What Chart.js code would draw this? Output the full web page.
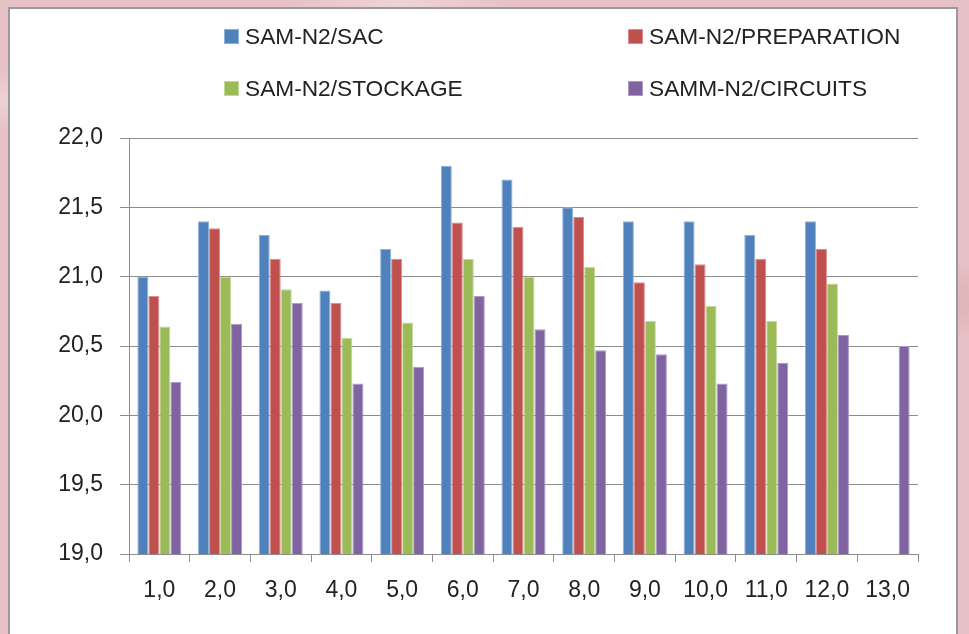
<!DOCTYPE html>
<html>
<head>
<meta charset="utf-8">
<script src="https://cdn.jsdelivr.net/npm/chart.js@4.4.1/dist/chart.umd.min.js"></script>
<style>
  html, body { margin: 0; padding: 0; }
  body {
    width: 969px; height: 634px; position: relative; overflow: hidden;
    background-color: #e6c1c5;
    background-image:
      radial-gradient(ellipse 60px 30px at 20px 100px, rgba(255,255,255,0.35), transparent),
      radial-gradient(ellipse 80px 40px at 940px 300px, rgba(200,150,155,0.35), transparent),
      radial-gradient(ellipse 120px 20px at 400px 4px, rgba(255,255,255,0.3), transparent);
  }
  #panel {
    position: absolute; left: 8px; top: 7px; width: 950px; height: 640px;
    background: #fff; border-left: 2px solid #9a9a9a; border-top: 2px solid #9a9a9a;
    border-right: 2px solid #9a9a9a; box-sizing: border-box;
  }
  #chartBox { position: absolute; left: 0; top: 0; width: 969px; height: 634px; }
  .legend-item {
    position: absolute; display: flex; align-items: center;
    font-family: "Liberation Sans", Arial, sans-serif; font-size: 22.7px; color: #222;
    white-space: nowrap;
  }
  .legend-item span.sw { display: inline-block; width: 15px; height: 15px; margin-right: 6px; }
</style>
</head>
<body>
<div id="panel"></div>
<div id="chartBox"><canvas id="chart" width="969" height="634"></canvas></div>
<div id="legend"></div>
<script>
// Categories and series values
const categories = ['1,0', '2,0', '3,0', '4,0', '5,0', '6,0', '7,0', '8,0', '9,0', '10,0', '11,0', '12,0', '13,0'];
const seriesNames = ['SAM-N2/SAC', 'SAM-N2/PREPARATION', 'SAM-N2/STOCKAGE', 'SAMM-N2/CIRCUITS'];
const sac         = [21.0, 21.4, 21.3, 20.9, 21.2, 21.8, 21.7, 21.5, 21.4, 21.4, 21.3, 21.4, null];
const preparation = [20.86, 21.35, 21.13, 20.81, 21.13, 21.39, 21.36, 21.43, 20.96, 21.09, 21.13, 21.2, null];
const stockage    = [20.64, 21.0, 20.91, 20.56, 20.67, 21.13, 21.0, 21.07, 20.68, 20.79, 20.68, 20.95, null];
const circuits    = [20.24, 20.66, 20.81, 20.23, 20.35, 20.86, 20.62, 20.47, 20.44, 20.23, 20.38, 20.58, 20.5];
const yMin = 19.0, yMax = 22.0, yStep = 0.5;

const fills   = ['#4f81bd', '#c0504d', '#9bbb59', '#8064a2'];
const borders = ['#8fb0d9', '#dc8d8b', '#c4d99a', '#ad98c8'];
const values  = [sac, preparation, stockage, circuits];

const gridColor = '#8c8c8c';
const tickFont = { family: '"Liberation Sans", Arial, sans-serif', size: 23 };

const chart = new Chart(document.getElementById('chart'), {
  type: 'bar',
  data: {
    labels: categories,
    datasets: seriesNames.map((name, i) => ({
      label: name,
      data: values[i],
      backgroundColor: fills[i],
      borderColor: borders[i],
      borderWidth: 1,
      categoryPercentage: 0.725,
      barPercentage: 1.0
    }))
  },
  options: {
    responsive: false,
    animation: false,
    layout: { padding: { top: 138, right: 51, left: 0, bottom: 0 } },
    plugins: { legend: { display: false }, tooltip: { enabled: false } },
    scales: {
      x: {
        offset: true,
        grid: { display: true, drawOnChartArea: false, drawTicks: true, tickLength: 8, color: gridColor },
        border: { display: true, color: gridColor, width: 1 },
        ticks: { color: '#222', font: tickFont, padding: 15, maxRotation: 0 },
        afterFit: (scale) => { scale.height = 80; }
      },
      y: {
        min: yMin, max: yMax,
        grid: { color: gridColor, lineWidth: 1, drawTicks: true, tickLength: 9, tickColor: gridColor },
        border: { display: true, color: gridColor, width: 1 },
        ticks: {
          stepSize: yStep, color: '#222', font: tickFont, padding: 17,
          callback: (v) => Number(v).toFixed(1).replace('.', ',')
        },
        afterFit: (scale) => { scale.width = 129; }
      }
    }
  }
});

// Two-column legend built from the dataset names and colours
const legendPos = [[224, 36], [628, 36], [224, 88], [628, 88]];
const legendEl = document.getElementById('legend');
seriesNames.forEach((name, i) => {
  const item = document.createElement('div');
  item.className = 'legend-item';
  item.style.left = legendPos[i][0] + 'px';
  item.style.top = (legendPos[i][1] - 14) + 'px';
  item.style.height = '28px';
  const sw = document.createElement('span');
  sw.className = 'sw';
  sw.style.background = fills[i];
  sw.style.outline = '1px solid ' + borders[i];
  sw.style.outlineOffset = '-1px';
  item.appendChild(sw);
  item.appendChild(document.createTextNode(name));
  legendEl.appendChild(item);
});
</script>
</body>
</html>
